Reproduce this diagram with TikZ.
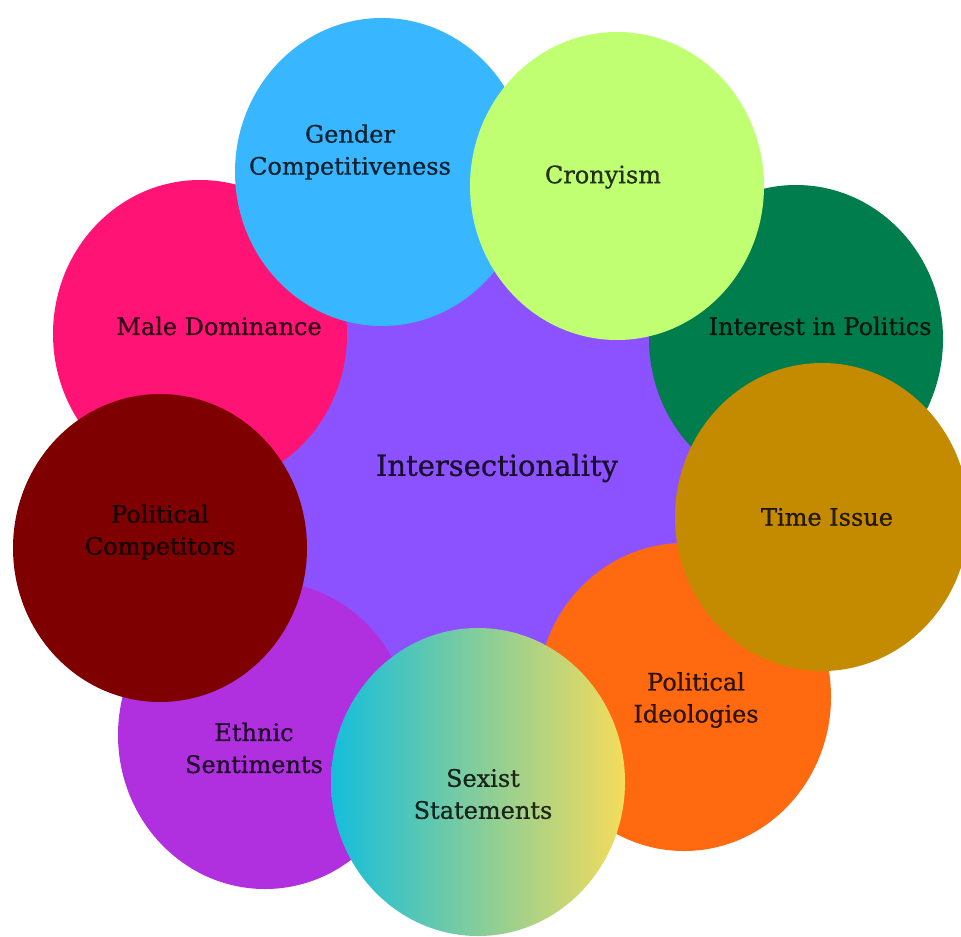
\documentclass[tikz,border=0pt]{standalone}
\usepackage{fontspec}
\setmainfont{DejaVu Serif}
\newfontfamily\lblfont{DejaVu Serif}[FakeBold=0.7]
\usetikzlibrary{shapes.geometric}

\definecolor{cMid}{HTML}{8C52FF}
\definecolor{cMale}{HTML}{FF1476}
\definecolor{cGender}{HTML}{38B6FF}
\definecolor{cCrony}{HTML}{C1FF72}
\definecolor{cInterest}{HTML}{007D4C}
\definecolor{cTime}{HTML}{C48A00}
\definecolor{cIdeol}{HTML}{FF6A10}
\definecolor{cEthnic}{HTML}{B030E0}
\definecolor{cCompet}{HTML}{7F0000}
\definecolor{cSexL}{HTML}{14BEDC}
\definecolor{cSexR}{HTML}{F5DC5A}

\begin{document}
\begin{tikzpicture}[x=0.5pt,y=-0.5pt,
    blob/.style={ellipse,minimum width=147pt,minimum height=154pt,inner sep=0pt},
    lbl/.style={align=center,text=black,text opacity=0.8,font=\lblfont\fontsize{12}{16}\selectfont}]
    \useasboundingbox (0,0) rectangle (961,936);
    %% middle
    \node[blob,fill=cMid,minimum width=220pt,minimum height=230pt] (mid) at (485,465) {};
    %% upper ring
    \node[blob,fill=cMale] (male) at (200,334) {};
    \node[blob,fill=cGender] (gender) at (382,172) {};
    \node[blob,fill=cInterest] (interest) at (796,339) {};
    \node[blob,fill=cCrony] (crony) at (617,186) {};
    %% lower ring
    \node[blob,fill=cIdeol] (ideol) at (684,697) {};
    \node[blob,fill=cTime] (time) at (822,517) {};
    \node[blob,fill=cEthnic] (ethnic) at (265,735) {};
    \node[blob,left color=cSexL,right color=cSexR] (sexist) at (478,782) {};
    \node[blob,fill=cCompet] (compet) at (160,548) {};
    %% labels
    \node[lbl,font=\lblfont\fontsize{14.5}{18}\selectfont] (midtxt) at (497,468) {Intersectionality};
    \node[lbl] (maletxt) at (219,326) {Male Dominance};
    \node[lbl] (gendertxt) at (350,152) {Gender\\Competitiveness};
    \node[lbl] (cronytxt) at (603,177) {Cronyism};
    \node[lbl] (interesttxt) at (820,326) {Interest in Politics};
    \node[lbl] (timetxt) at (827,517) {Time Issue};
    \node[lbl] (ideoltxt) at (696,700) {Political\\Ideologies};
    \node[lbl] (sexisttxt) at (483,794) {Sexist\\Statements};
    \node[lbl] (ethnictxt) at (254,748) {Ethnic\\Sentiments};
    \node[lbl] (compettxt) at (160,532) {Political\\Competitors};
\end{tikzpicture}
\end{document}
